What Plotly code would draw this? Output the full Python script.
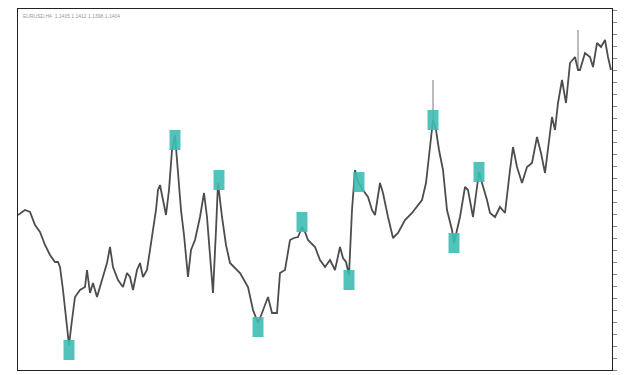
import plotly.graph_objects as go

# bar position (px-like index) and close level
bars = [18, 25, 30, 35, 40, 45, 50, 55, 58, 60, 63, 66, 69, 72, 75, 80, 85, 87, 90, 93,
        97, 102, 107, 110, 113, 118, 123, 127, 130, 133, 137, 140, 143, 147, 150, 153, 156, 158, 160, 163,
        166, 169, 172, 175, 178, 181, 184, 188, 191, 195, 200, 204, 207, 210, 213, 216, 218, 222, 226, 230,
        235, 240, 244, 248, 253, 258, 262, 265, 268, 272, 277, 280, 285, 290, 294, 298, 302, 305, 308, 315,
        320, 325, 330, 335, 340, 343, 346, 349, 352, 355, 358, 363, 368, 372, 375, 380, 383, 388, 393, 398,
        405, 412, 417, 422, 426, 428, 430, 433, 436, 439, 443, 447, 452, 454, 457, 460, 465, 468, 473, 477,
        479, 482, 487, 490, 495, 500, 505, 510, 513, 517, 522, 527, 532, 537, 541, 545, 548, 552,
        555, 558, 562, 566, 570, 575, 578, 580, 585, 590, 593, 597, 601, 605, 608, 611]
close = [155, 160, 158, 145, 138, 125, 115, 108, 108, 103, 80, 50, 25, 50, 73, 80, 83, 100, 77, 87,
         73, 90, 107, 123, 103, 90, 83, 97, 93, 80, 100, 107, 93, 100, 120, 140, 160, 180, 185, 170,
         155, 180, 220, 235, 200, 160, 135, 93, 120, 130, 153, 177, 153, 110, 77, 140, 187, 153, 125, 107,
         102, 97, 90, 83, 60, 47, 57, 65, 73, 57, 57, 97, 100, 130, 132, 133, 143, 138, 130, 123,
         110, 103, 110, 100, 123, 112, 108, 95, 160, 200, 188, 180, 173, 160, 155, 187, 177, 153, 132, 137,
         150, 157, 163, 170, 187, 207, 225, 250, 240, 220, 200, 160, 140, 127, 140, 153, 183, 180, 153, 187,
         198, 187, 170, 157, 153, 163, 157, 200, 223, 203, 187, 203, 207, 233, 217, 197, 223, 253,
         240, 267, 290, 267, 307, 313, 300, 300, 317, 313, 303, 327, 323, 330, 313, 300]

# long wicks
wick_bars = [433, 578]
wick_low = [245, 300]
wick_high = [290, 340]

# swing markers
swing_bars = [69, 175, 219, 258, 302, 349, 359, 433, 454, 479]
swing_level = [20, 230, 190, 43, 148, 90, 188, 250, 127, 198]

fig = go.Figure()

wx, wy = [], []
for b, lo, hi in zip(wick_bars, wick_low, wick_high):
    wx += [b, b, None]
    wy += [lo, hi, None]
fig.add_trace(go.Scatter(x=wx, y=wy, mode='lines', line=dict(color='#777777', width=1),
                         hoverinfo='skip', showlegend=False))

fig.add_trace(go.Scatter(x=bars, y=close, mode='lines',
                         line=dict(color='#4d4d4d', width=1.8),
                         showlegend=False))

shapes = []
for b, lv in zip(swing_bars, swing_level):
    shapes.append(dict(type='rect', xref='x', yref='y',
                       x0=b - 5.5, x1=b + 5.5, y0=lv - 10, y1=lv + 10,
                       fillcolor='#3fbdb4', line=dict(width=0), opacity=0.9, layer='above'))

# la página añade 8px de margen al body: se compensa en width/height y márgenes
fig.update_layout(
    width=617, height=367,
    paper_bgcolor='#ffffff',
    plot_bgcolor='#ffffff',
    margin=dict(l=10, r=13, t=1, b=5),
    shapes=shapes,
    font=dict(family='Arial', size=5, color='#aaaaaa'),
    annotations=[dict(text='EURUSD,H4  1.1405 1.1412 1.1398 1.1404', xref='paper', yref='paper',
                      x=0.005, y=0.995, xanchor='left', yanchor='top', showarrow=False,
                      font=dict(size=5, color='#999999'))]
)

fig.update_xaxes(range=[18, 612], showgrid=False, zeroline=False, showticklabels=False,
                 showline=True, linecolor='#222222', linewidth=1, mirror=True)
fig.update_yaxes(range=[0, 361], side='right', showgrid=False, zeroline=False,
                 showticklabels=False, ticks='outside', ticklen=6, tickcolor='#888888',
                 dtick=12, showline=True, linecolor='#222222', linewidth=1, mirror=True)

fig.write_html("out.html")
